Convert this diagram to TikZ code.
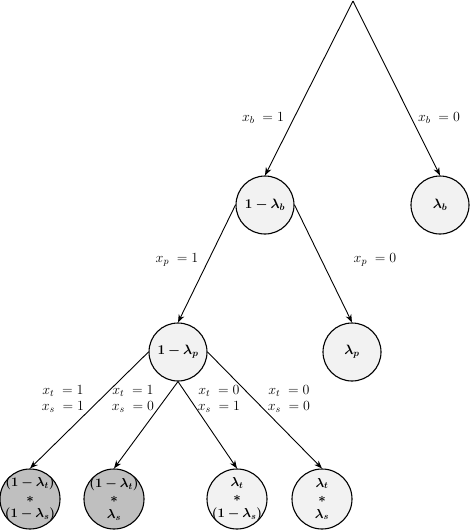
\documentclass[tikz,border=0pt]{standalone}
\usepackage{fix-cm}
\usepackage{bm}
\usetikzlibrary{arrows.meta}
\definecolor{lightfill}{HTML}{F2F2F2}
\definecolor{darkfill}{HTML}{BFBFBF}
\begin{document}
\begin{tikzpicture}[x=1pt,y=-1pt,
  prob/.style={circle,draw=black,line width=1.1pt,fill=lightfill,minimum size=58pt,inner sep=0pt,font=\fontsize{13.5}{15}\selectfont,align=center},
  leaf/.style={circle,draw=black,line width=1.1pt,fill=lightfill,minimum size=60pt,inner sep=0pt},
  leaftext/.style={font=\fontsize{13}{15.5}\selectfont,align=center,inner sep=0pt},
  dark/.style={fill=darkfill},
  edge/.style={line width=0.9pt,-{Stealth[length=8pt,width=6pt]}},
  lab/.style={font=\fontsize{14}{16.5}\selectfont,align=center,inner sep=0pt}]
\useasboundingbox (0,0) rectangle (472,531);
\coordinate (root) at (353,1);
\node[prob] (pb) at (265,205) {$\bm{1-\lambda_b}$};
\node[prob] (lb) at (440,205) {$\bm{\lambda_b}$};
\node[prob] (pp) at (178,352) {$\bm{1-\lambda_p}$};
\node[prob] (lp) at (352,352) {$\bm{\lambda_p}$};
\node[leaf,dark] (c1) at (30,499) {};
\node[leaf,dark] (c2) at (114,499) {};
\node[leaf] (c3) at (237,499) {};
\node[leaf] (c4) at (322,499) {};
\node[leaftext] (t1) at (c1.center) {$\bm{(1-\lambda_t)}$\\$\bm{*}$\\$\bm{(1-\lambda_s)}$};
\node[leaftext] (t2) at (c2.center) {$\bm{(1-\lambda_t)}$\\$\bm{*}$\\$\bm{\lambda_s}$};
\node[leaftext] (t3) at (c3.center) {$\bm{\lambda_t}$\\$\bm{*}$\\$\bm{(1-\lambda_s)}$};
\node[leaftext] (t4) at (c4.center) {$\bm{\lambda_t}$\\$\bm{*}$\\$\bm{\lambda_s}$};
\draw[edge] (root) -- (pb.north);
\draw[edge] (root) -- (lb.north);
\draw[edge] (pb.west) -- (pp.north);
\draw[edge] (pb.east) -- (lp.north);
\draw[edge] (pp.west) -- (c1.north);
\draw[edge] (pp.south) -- (c2.north);
\draw[edge] (pp.south) -- (c3.north);
\draw[edge] (pp.east) -- (c4.north);
\node[lab] (lxb1) at (263,118) {$x_b\;=1$};
\node[lab] (lxb0) at (439,118) {$x_b\;=0$};
\node[lab] (lxp1) at (177,260) {$x_p\;=1$};
\node[lab] (lxp0) at (375,260) {$x_p\;=0$};
\node[lab] (l11) at (63,399) {$x_t\;=1$\\$x_s\;=1$};
\node[lab] (l10) at (133,399) {$x_t\;=1$\\$x_s\;=0$};
\node[lab] (l01) at (219,399) {$x_t\;=0$\\$x_s\;=1$};
\node[lab] (l00) at (289,399) {$x_t\;=0$\\$x_s\;=0$};
\end{tikzpicture}
\end{document}
